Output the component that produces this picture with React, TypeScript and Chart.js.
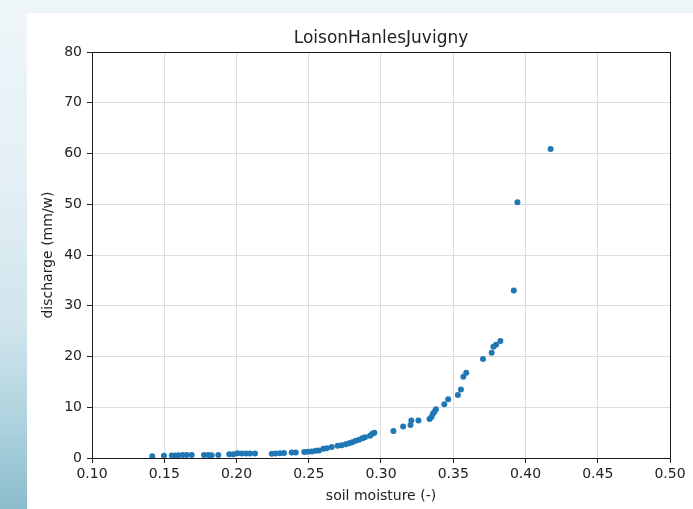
import React, { useEffect, useRef } from 'react';
import { Chart, registerables } from 'chart.js';

Chart.register(...registerables);

const chartTitle = 'LoisonHanlesJuvigny';
const xAxisLabel = 'soil moisture (-)';
const yAxisLabel = 'discharge (mm/w)';

const soilMoisture = [
  0.1417, 0.1498, 0.1552, 0.1574, 0.1597, 0.1628, 0.1655, 0.169, 0.1775, 0.1805,
  0.1828, 0.1874, 0.195, 0.1978, 0.2006, 0.2036, 0.2066, 0.2093, 0.2128,
  0.2244, 0.2271, 0.2301, 0.2329, 0.2382, 0.241, 0.2469, 0.2493, 0.252, 0.2548,
  0.2571, 0.2601, 0.2624, 0.2659, 0.27, 0.2728, 0.2756, 0.2779, 0.2801, 0.2825,
  0.2848, 0.2871, 0.2889, 0.2924, 0.294, 0.2954,
  0.3086, 0.3153, 0.3204, 0.321, 0.3259, 0.3336, 0.335, 0.3359, 0.337, 0.338,
  0.3438, 0.3465, 0.3532, 0.3553, 0.357, 0.359, 0.3706, 0.3766, 0.3778, 0.3796,
  0.3826, 0.3919, 0.3944, 0.4174,
];

const discharge = [
  0.35, 0.45, 0.5, 0.5, 0.55, 0.6, 0.6, 0.6, 0.6, 0.6,
  0.55, 0.6, 0.75, 0.75, 0.95, 0.9, 0.9, 0.9, 0.9,
  0.85, 0.9, 0.95, 1.0, 1.1, 1.1, 1.2, 1.25, 1.3, 1.45,
  1.5, 1.8, 1.9, 2.15, 2.4, 2.5, 2.7, 2.9, 3.1, 3.4,
  3.6, 3.9, 4.1, 4.4, 4.8, 5.0,
  5.3, 6.2, 6.5, 7.4, 7.4, 7.7, 8.1, 8.7, 9.1, 9.6,
  10.6, 11.6, 12.4, 13.5, 16.0, 16.8, 19.5, 20.75, 21.9, 22.3,
  23.05, 33.0, 50.4, 60.9,
];

const xTickValues = [0.1, 0.15, 0.2, 0.25, 0.3, 0.35, 0.4, 0.45, 0.5];
const yTickValues = [0, 10, 20, 30, 40, 50, 60, 70, 80];

const FONT = '"DejaVu Sans", sans-serif';
const TEXT = '#222';

// matplotlib-style box round the axes, plus the title above it
const framePlugin = {
  id: 'frame',
  afterDatasetsDraw(chart: any) {
    const { ctx, chartArea: a } = chart;
    ctx.save();
    ctx.strokeStyle = '#1a1a1a';
    ctx.lineWidth = 1;
    const l = Math.round(a.left) + 0.5;
    const t = Math.round(a.top) + 0.5;
    const r = Math.round(a.right) + 0.5;
    const b = Math.round(a.bottom) + 0.5;
    ctx.strokeRect(l, t, r - l, b - t);
    ctx.fillStyle = TEXT;
    ctx.font = '17px ' + FONT;
    ctx.textAlign = 'center';
    ctx.textBaseline = 'alphabetic';
    ctx.fillText(chartTitle, (a.left + a.right) / 2, a.top - 8.7);
    ctx.restore();
  },
};

export default function App() {
  const canvasRef = useRef<HTMLCanvasElement>(null);
  const chartRef = useRef<Chart | null>(null);

  useEffect(() => {
    if (!canvasRef.current) return;
    if (chartRef.current) chartRef.current.destroy();

    const points = soilMoisture.map((x, i) => ({ x, y: discharge[i] }));

    chartRef.current = new Chart(canvasRef.current, {
      type: 'scatter',
      data: {
        datasets: [{
          data: points,
          backgroundColor: '#1f77b4',
          borderWidth: 0,
          pointRadius: 3,
        }],
      },
      options: {
        animation: false,
        responsive: true,
        maintainAspectRatio: false,
        layout: { padding: { top: 39, right: 23, left: 0, bottom: 0 } },
        plugins: {
          legend: { display: false },
          tooltip: { enabled: false },
          title: { display: false },
        },
        scales: {
          x: {
            type: 'linear',
            min: 0.1,
            max: 0.5,
            afterFit: (s: any) => { s.height = 51; },
            afterBuildTicks: (s: any) => { s.ticks = xTickValues.map((v) => ({ value: v })); },
            border: { display: false },
            grid: { color: '#dcdcdc', lineWidth: 1, tickColor: '#222', tickLength: 5, tickWidth: 1 },
            ticks: {
              padding: 3,
              color: TEXT,
              font: { family: FONT, size: 14 },
              maxRotation: 0,
              callback: (v: any) => Number(v).toFixed(2),
            },
            title: {
              display: true,
              text: xAxisLabel,
              color: TEXT,
              font: { family: FONT, size: 14 },
              padding: { top: 0, bottom: 4.6 },
            },
          },
          y: {
            type: 'linear',
            min: 0,
            max: 80,
            afterFit: (s: any) => { s.width = 65; },
            afterBuildTicks: (s: any) => { s.ticks = yTickValues.map((v) => ({ value: v })); },
            border: { display: false },
            grid: { color: '#dcdcdc', lineWidth: 1, tickColor: '#222', tickLength: 5, tickWidth: 1 },
            ticks: {
              padding: 5,
              color: TEXT,
              font: { family: FONT, size: 14 },
              callback: (v: any) => String(v),
            },
            title: {
              display: true,
              text: yAxisLabel,
              color: TEXT,
              font: { family: FONT, size: 14 },
              padding: { top: 13, bottom: 0 },
            },
          },
        },
      },
      plugins: [framePlugin],
    } as any);

    return () => { if (chartRef.current) chartRef.current.destroy(); chartRef.current = null; };
  }, []);

  return (
    <div style={{ position: 'fixed', left: 0, top: 0, width: 693, height: 509, background: '#eef5f9', overflow: 'hidden' }}>
      <div
        style={{
          position: 'absolute', left: 0, top: 0, width: 27, height: 509,
          background: 'linear-gradient(to bottom, #eff6fa 0%, #e4f0f5 35%, #cfe4ec 65%, #a9d0dc 85%, #8cbccb 100%)',
        }}
      />
      <div style={{ position: 'absolute', left: 27, top: 13, width: 666, height: 496, background: '#fff' }}>
        <canvas ref={canvasRef} />
      </div>
    </div>
  );
}
